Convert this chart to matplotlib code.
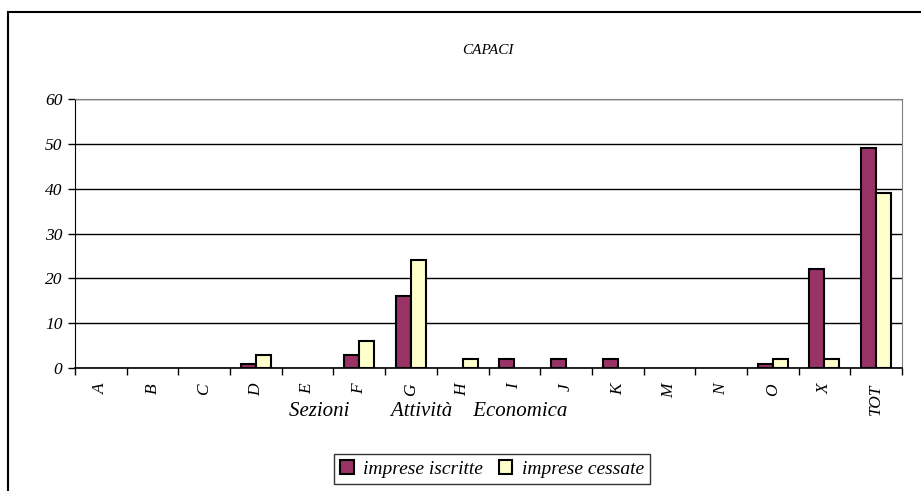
import numpy as np
import matplotlib.pyplot as plt
from matplotlib.patches import Rectangle

categories = ["A", "B", "C", "D", "E", "F", "G", "H", "I", "J", "K", "M", "N", "O", "X", "TOT"]
iscritte = [0, 0, 0, 1, 0, 3, 16, 0, 2, 2, 2, 0, 0, 1, 22, 49]
cessate = [0, 0, 0, 3, 0, 6, 24, 2, 0, 0, 0, 0, 0, 2, 2, 39]

plt.rcParams['font.family'] = ['Liberation Serif', 'DejaVu Serif']
plt.rcParams['font.style'] = 'italic'

W, H = 921, 491
fig = plt.figure(figsize=(W / 100, H / 100), dpi=100)

# outer frame (right and bottom edges fall outside the picture)
fig.patches.append(Rectangle((8 / W, -0.1), 1.2, 1 - 12 / H + 0.1, transform=fig.transFigure,
                             fill=False, edgecolor='black', linewidth=1.5))

ax = fig.add_axes([75 / W, 1 - 368 / H, (902 - 75) / W, (368 - 99) / H])

x = np.arange(len(categories))
w = 0.29
# zero-height bars get no outline
ax.bar(x - w / 2, iscritte, w, color='#993366', edgecolor='black',
       linewidth=[1.5 if v else 0 for v in iscritte], label='imprese iscritte', zorder=3)
ax.bar(x + w / 2, cessate, w, color='#FFFFCC', edgecolor='black',
       linewidth=[1.5 if v else 0 for v in cessate], label='imprese cessate', zorder=3)

ax.set_xlim(-0.5, len(categories) - 0.5)
ax.set_ylim(0, 60)
ax.set_yticks(range(0, 61, 10))
ax.set_yticklabels([str(v) for v in range(0, 61, 10)], fontsize=12.5)
ax.yaxis.grid(True, color='black', linewidth=1)
ax.set_axisbelow(True)

ax.set_xticks(np.arange(-0.5, len(categories), 1))
ax.set_xticklabels([])
ax.set_xticks(x, minor=True)
ax.set_xticklabels(categories, minor=True, rotation=90, fontsize=12.5)
ax.tick_params(axis='x', which='minor', length=0, pad=11)
ax.tick_params(axis='x', which='major', length=5, width=1, direction='out')
ax.tick_params(axis='y', length=5, width=1, direction='out', pad=4)

for s in ['top', 'right']:
    ax.spines[s].set_color('gray')
ax.spines['left'].set_color('black')
ax.spines['bottom'].set_color('black')
ax.spines['bottom'].set_linewidth(1.2)

fig.text(488 / W, 1 - 50 / H, 'CAPACI', ha='center', va='center', fontsize=11)
fig.text(428 / W, 1 - 412 / H, 'Sezioni        Attività    Economica', ha='center', va='center',
         fontsize=15)

leg = fig.legend(loc='center', bbox_to_anchor=(492 / W, 1 - 469 / H), ncol=2, fontsize=14,
                 frameon=True, fancybox=False, edgecolor='black', handlelength=0.7,
                 handleheight=0.7, handletextpad=0.5, columnspacing=0.8, borderpad=0.3)
leg.get_frame().set_linewidth(1)
for h in leg.legend_handles:
    h.set_linewidth(1.5)
    h.set_edgecolor('black')

fig.savefig('out.png', dpi=100)
